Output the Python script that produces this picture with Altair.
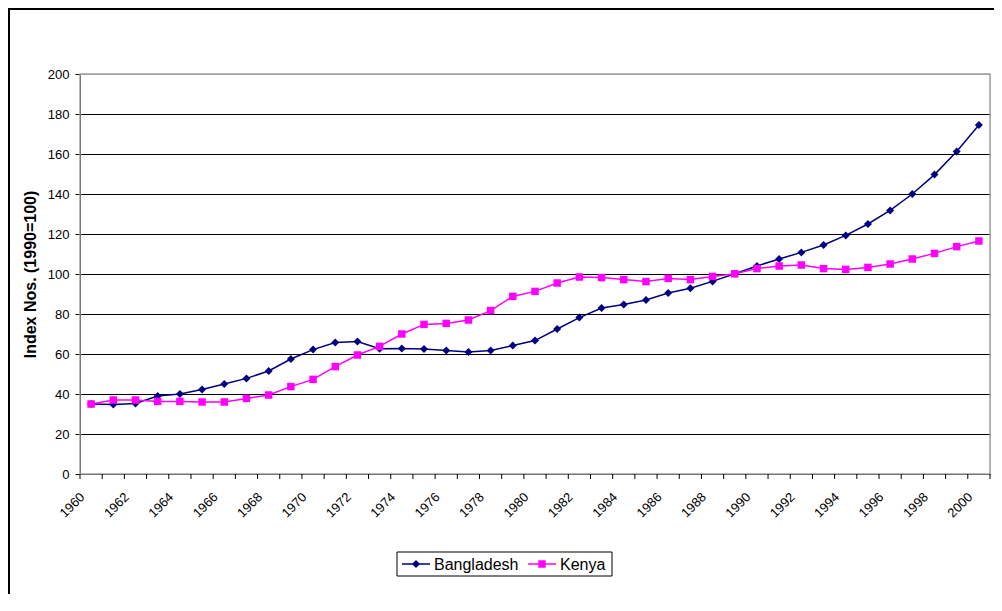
import altair as alt
import pandas as pd

years = list(range(1960, 2001))
series_names = ["Bangladesh", "Kenya"]
series_colors = ["#000080", "#FF00FF"]
series_shapes = ["diamond", "square"]

bangladesh = [35, 34.7, 35.3, 39, 40, 42.2, 45, 47.8, 51.5, 57.5,
              62.2, 65.7, 66.2, 62.6, 62.8, 62.5, 61.7, 61, 61.7, 64.2,
              66.7, 72.5, 78.2, 83, 84.8, 87, 90.5, 92.9, 96.3, 100.1,
              104, 107.5, 110.8, 114.5, 119.3, 125, 131.8, 140, 149.7, 161.3, 174.5]
kenya = [35, 37, 37, 36.3, 36.3, 36, 36, 37.8, 39.5, 43.7,
         47.3, 53.7, 59.5, 63.8, 70, 74.8, 75.3, 77, 81.7, 88.8,
         91.3, 95.5, 98.5, 98.2, 97.2, 96.2, 97.8, 97.2, 98.8, 100.1,
         102.7, 104, 104.5, 102.7, 102.3, 103.3, 105, 107.5, 110.3, 113.7, 116.5]

y_ticks = list(range(0, 201, 20))
x_labels = years[::2]
y_title = "Index Nos. (1990=100)"

df = pd.DataFrame({
    "year": years * 2,
    "value": bangladesh + kenya,
    "series": [series_names[0]] * len(years) + [series_names[1]] * len(years),
})
bounds = pd.DataFrame({"b": [y - 0.5 for y in years] + [years[-1] + 0.5]})
label_df = pd.DataFrame({"lab": x_labels})
one = pd.DataFrame({"k": [0]})

W, H = 910, 400
FONT = "Liberation Sans"

xscale = alt.Scale(domain=[years[0] - 0.5, years[-1] + 0.5], nice=False, zero=False)
yscale = alt.Scale(domain=[0, 200], nice=False, zero=True)

color = alt.Color("series:N", scale=alt.Scale(domain=series_names, range=series_colors), legend=None)

x_enc = alt.X("year:Q", scale=xscale, axis=alt.Axis(
    values=x_labels, labels=False, ticks=False, grid=False,
    domainColor="black", domainWidth=1, title=None))

y_enc = alt.Y("value:Q", scale=yscale, axis=alt.Axis(
    values=y_ticks, title=y_title, titleFont=FONT, titleFontSize=16, titleFontWeight="bold",
    titleColor="black", titleX=-50, titleY=H / 2, titleAngle=270, titleAlign="center",
    titleBaseline="middle", tickSize=5, tickColor="black", domainColor="black",
    gridColor={"condition": {"test": "datum.value === 200", "value": "#a0a0a0"}, "value": "black"},
    gridWidth=1, labelPadding=6, labelFontSize=13, labelColor="black", labelFont=FONT,
    labelOverlap=False))

plot_frame = alt.Chart(one).mark_rect(fillOpacity=0, stroke="#a0a0a0", strokeWidth=1.5).encode(
    x=alt.value(0), x2=alt.value(W), y=alt.value(0), y2=alt.value(H))

lines = alt.Chart(df).mark_line(strokeWidth=1.5).encode(
    x=x_enc, y=y_enc, color=color, detail="series:N")

points = alt.Chart(df).mark_point(filled=True, opacity=1).encode(
    x=x_enc, y=y_enc,
    color=color,
    shape=alt.condition(f"datum.series === '{series_names[0]}'", alt.value("diamond"), alt.value("square")),
    size=alt.condition(f"datum.series === '{series_names[0]}'", alt.value(64), alt.value(56)),
)

xticks = alt.Chart(bounds).mark_rule(color="black", strokeWidth=1).encode(
    x=alt.X("b:Q", scale=xscale, axis=None), y=alt.value(H), y2=alt.value(H + 5))

xlabels = alt.Chart(label_df).mark_text(
    angle=315, align="right", baseline="middle", dx=-6, dy=-6,
    font=FONT, fontSize=13, color="black").encode(
    x=alt.X("lab:Q", scale=xscale, axis=None), y=alt.value(H + 21), text=alt.Text("lab:Q", format="d"))

border = alt.Chart(one).mark_rect(fillOpacity=0, stroke="black", strokeWidth=2).encode(
    x=alt.value(-71), x2=alt.value(W + 200), y=alt.value(-65), y2=alt.value(H + 400))

# legend (drawn by hand: line + marker + label per series, inside a framed box)
LEG_X, LEG_Y, LEG_W, LEG_H = 317, 478, 215, 24
leg_item_x = [LEG_X + 5, LEG_X + 131]
leg_cy = LEG_Y + LEG_H / 2
legend_layers = [
    alt.Chart(one).mark_rect(fill="white", stroke="black", strokeWidth=1).encode(
        x=alt.value(LEG_X), x2=alt.value(LEG_X + LEG_W), y=alt.value(LEG_Y), y2=alt.value(LEG_Y + LEG_H))
]
for name, col, shp, lx in zip(series_names, series_colors, series_shapes, leg_item_x):
    legend_layers.append(alt.Chart(one).mark_rule(color=col, strokeWidth=1.5).encode(
        x=alt.value(lx), x2=alt.value(lx + 28), y=alt.value(leg_cy)))
    legend_layers.append(alt.Chart(one).mark_point(
        filled=True, opacity=1, color=col, shape=shp, size=64 if shp == "diamond" else 56).encode(
        x=alt.value(lx + 14), y=alt.value(leg_cy)))
    legend_layers.append(alt.Chart(one).mark_text(
        text=name, font=FONT, fontSize=16, color="black", align="left", baseline="middle").encode(
        x=alt.value(lx + 32), y=alt.value(leg_cy + 1)))

chart = alt.layer(border, plot_frame, lines, points, xticks, xlabels, *legend_layers).properties(
    width=W, height=H,
    padding={"left": 72, "top": 66, "right": 4, "bottom": 120},
    autosize=alt.AutoSizeParams(type="none"),
).configure_view(stroke="#a0a0a0", strokeWidth=1.5).configure(font=FONT)

chart.save("out.html", embed_options={"renderer": "svg", "actions": False})
